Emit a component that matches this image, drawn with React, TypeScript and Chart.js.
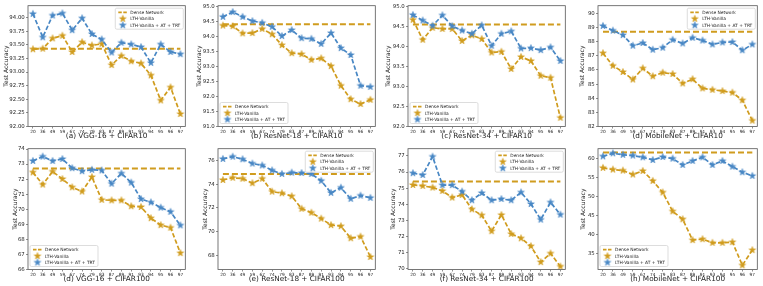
import React, { useEffect, useRef } from 'react';
import { Chart, registerables } from 'chart.js';
Chart.register(...registerables);

const sparsity = ['20', '36', '49', '59', '67', '74', '79', '83', '87', '89', '91', '93', '94', '95', '96', '97'];

const denseA = 93.43;
const lthA = [93.42, 93.43, 93.62, 93.67, 93.37, 93.55, 93.49, 93.52, 93.13, 93.30, 93.20, 93.16, 92.94, 92.48, 92.72, 92.23];
const trtA = [94.07, 93.64, 94.04, 94.08, 93.77, 93.99, 93.70, 93.60, 93.36, 93.54, 93.51, 93.46, 93.17, 93.51, 93.37, 93.33];
const yTicksA = [92.0, 92.25, 92.5, 92.75, 93.0, 93.25, 93.5, 93.75, 94.0];

const denseB = 94.40;
const lthB = [94.36, 94.34, 94.10, 94.11, 94.25, 94.07, 93.71, 93.44, 93.41, 93.22, 93.27, 93.01, 92.36, 91.91, 91.75, 91.89];
const trtB = [94.65, 94.81, 94.65, 94.51, 94.45, 94.32, 94.01, 94.21, 93.94, 93.92, 93.75, 94.11, 93.61, 93.38, 92.36, 92.32];
const yTicksB = [91.0, 91.5, 92.0, 92.5, 93.0, 93.5, 94.0, 94.5, 95.0];

const denseC = 94.55;
const lthC = [94.67, 94.17, 94.47, 94.44, 94.44, 94.14, 94.28, 94.19, 93.85, 93.87, 93.44, 93.74, 93.64, 93.27, 93.22, 92.22];
const trtC = [94.79, 94.65, 94.52, 94.78, 94.51, 94.40, 94.32, 94.53, 94.02, 94.32, 94.38, 93.95, 93.96, 93.91, 93.98, 93.64];
const yTicksC = [92.0, 92.5, 93.0, 93.5, 94.0, 94.5, 95.0];

const denseD = 88.70;
const lthD = [87.19, 86.30, 85.86, 85.33, 86.12, 85.56, 85.81, 85.72, 85.05, 85.35, 84.70, 84.60, 84.51, 84.40, 83.86, 82.42];
const trtD = [89.12, 88.79, 88.47, 87.72, 87.91, 87.44, 87.58, 88.14, 87.88, 88.28, 88.09, 87.81, 87.95, 87.98, 87.40, 87.81];
const yTicksD = [82, 83, 84, 85, 86, 87, 88, 89, 90];

const denseE = 72.70;
const lthE = [72.45, 71.64, 72.51, 72.01, 71.46, 71.18, 72.14, 70.63, 70.59, 70.59, 70.20, 70.15, 69.41, 68.95, 68.78, 67.09];
const trtE = [73.21, 73.50, 73.21, 73.34, 72.73, 72.53, 72.62, 72.58, 71.70, 72.38, 71.77, 70.68, 70.46, 70.11, 69.83, 68.93];
const yTicksE = [66, 67, 68, 69, 70, 71, 72, 73, 74];

const denseF = 74.87;
const lthF = [74.36, 74.55, 74.47, 74.09, 74.47, 73.38, 73.24, 72.99, 71.93, 71.60, 71.10, 70.55, 70.46, 69.44, 69.58, 67.86];
const trtF = [76.14, 76.33, 76.11, 75.75, 75.59, 75.17, 74.87, 74.98, 74.95, 74.87, 74.29, 73.27, 73.71, 72.77, 73.04, 72.85];
const yTicksF = [68, 70, 72, 74, 76];

const denseG = 75.41;
const lthG = [75.20, 75.14, 75.04, 74.83, 74.42, 74.58, 73.69, 73.32, 72.33, 73.34, 72.16, 71.89, 71.40, 70.41, 70.95, 70.14];
const trtG = [75.93, 75.82, 76.96, 75.19, 75.19, 74.79, 74.25, 74.70, 74.25, 74.33, 74.25, 74.74, 74.02, 73.05, 74.12, 73.36];
const yTicksG = [70, 71, 72, 73, 74, 75, 76, 77];

const denseH = 61.6;
const lthH = [57.57, 57.13, 56.87, 55.83, 56.78, 54.17, 51.13, 46.17, 44.09, 38.61, 38.87, 37.91, 37.91, 38.09, 32.0, 36.0];
const trtH = [60.6, 61.4, 61.0, 60.8, 60.35, 59.65, 60.43, 60.0, 58.35, 59.39, 60.35, 58.35, 59.39, 57.91, 56.43, 55.48];
const yTicksH = [35, 40, 45, 50, 55, 60];

const legendLabels = ['Dense Network', 'LTH-Vanilla', 'LTH-Vanilla + AT + TRT'];

const GOLD = '#D09C1E';
const BLUE = '#4887C4';
const FONT = '"DejaVu Sans", sans-serif';

const panels = [
  { caption: '(a) VGG-16 + CIFAR10', dense: denseA, lth: lthA, trt: trtA, ticks: yTicksA, min: 92, max: 94.22, dec: 2, legend: 'tr', titlePad: 2.4 },
  { caption: '(b) ResNet-18 + CIFAR10', dense: denseB, lth: lthB, trt: trtB, ticks: yTicksB, min: 91, max: 95.02, dec: 1, legend: 'bl', titlePad: 5.7 },
  { caption: '(c) ResNet-34 + CIFAR10', dense: denseC, lth: lthC, trt: trtC, ticks: yTicksC, min: 92, max: 95.02, dec: 1, legend: 'bl', titlePad: 4.9 },
  { caption: '(d) MobileNet + CIFAR10', dense: denseD, lth: lthD, trt: trtD, ticks: yTicksD, min: 82, max: 90.55, dec: 0, legend: 'tr', titlePad: 9.1 },
  { caption: '(d) VGG-16 + CIFAR100', dense: denseE, lth: lthE, trt: trtE, ticks: yTicksE, min: 66, max: 74.02, dec: 0, legend: 'bl', titlePad: 11.4 },
  { caption: '(e) ResNet-18 + CIFAR100', dense: denseF, lth: lthF, trt: trtF, ticks: yTicksF, min: 66.8, max: 77.0, dec: 0, legend: 'tr', titlePad: 11.4 },
  { caption: '(f) ResNet-34 + CIFAR100', dense: denseG, lth: lthG, trt: trtG, ticks: yTicksG, min: 69.95, max: 77.45, dec: 0, legend: 'tr', titlePad: 9.4 },
  { caption: '(h) MobileNet + CIFAR100', dense: denseH, lth: lthH, trt: trtH, ticks: yTicksH, min: 30.9, max: 62.6, dec: 0, legend: 'bl', titlePad: 9.4 },
];

function makeStar(color: string, r: number) {
  const c = document.createElement('canvas');
  const s = Math.ceil(r * 2 + 2);
  c.width = s;
  c.height = s;
  const g = c.getContext('2d')!;
  g.beginPath();
  for (let k = 0; k < 10; k++) {
    const rad = k % 2 === 0 ? r : r * 0.4;
    const a = -Math.PI / 2 + (k * Math.PI) / 5;
    const px = s / 2 + rad * Math.cos(a);
    const py = s / 2 + rad * Math.sin(a);
    if (k === 0) g.moveTo(px, py);
    else g.lineTo(px, py);
  }
  g.closePath();
  g.fillStyle = color;
  g.fill();
  g.strokeStyle = color;
  g.lineWidth = 0.5;
  g.stroke();
  return c;
}

const framePlugin = {
  id: 'frameBox',
  afterDatasetsDraw(chart: any) {
    const { ctx, chartArea: ca } = chart;
    ctx.save();
    ctx.strokeStyle = '#555';
    ctx.lineWidth = 0.8;
    ctx.strokeRect(ca.left, ca.top, ca.right - ca.left, ca.bottom - ca.top);
    ctx.restore();
  },
};

function makeLegendPlugin(pos: string, goldStar: HTMLCanvasElement, blueStar: HTMLCanvasElement) {
  return {
    id: 'boxLegend',
    afterDraw(chart: any) {
      const { ctx, chartArea: ca } = chart;
      ctx.save();
      ctx.font = '4.4px ' + FONT;
      const tw = Math.max(...legendLabels.map((l) => ctx.measureText(l).width));
      const w = tw + 18;
      const h = 21;
      const x = pos === 'tr' ? ca.right - 2 - w : ca.left + 2;
      const y = pos === 'tr' ? ca.top + 2.5 : ca.bottom - 3 - h;
      ctx.fillStyle = 'rgba(255,255,255,0.85)';
      ctx.strokeStyle = '#d4d4d4';
      ctx.lineWidth = 0.8;
      ctx.beginPath();
      ctx.roundRect(x, y, w, h, 1.5);
      ctx.fill();
      ctx.stroke();
      const rows = [y + 4.2, y + 10.6, y + 17];
      ctx.strokeStyle = GOLD;
      ctx.lineWidth = 1.7;
      ctx.setLineDash([3.5, 1.5]);
      ctx.beginPath();
      ctx.moveTo(x + 3, rows[0]);
      ctx.lineTo(x + 12, rows[0]);
      ctx.stroke();
      ctx.setLineDash([]);
      ctx.drawImage(goldStar, x + 7.5 - goldStar.width / 2, rows[1] - goldStar.height / 2);
      ctx.drawImage(blueStar, x + 7.5 - blueStar.width / 2, rows[2] - blueStar.height / 2);
      ctx.fillStyle = '#222';
      ctx.textBaseline = 'middle';
      ctx.textAlign = 'left';
      legendLabels.forEach((l, i) => ctx.fillText(l, x + 15, rows[i] + 0.3));
      ctx.restore();
    },
  };
}

function Panel({ p, left, top, width }: any) {
  const ref = useRef<HTMLCanvasElement>(null);
  useEffect(() => {
    const goldStar = makeStar(GOLD, 3.6);
    const blueStar = makeStar(BLUE, 3.6);
    const chart = new Chart(ref.current!, {
      type: 'line',
      data: {
        labels: sparsity,
        datasets: [
          {
            label: legendLabels[0],
            data: sparsity.map(() => p.dense),
            borderColor: GOLD,
            borderWidth: 2,
            borderDash: [6, 3],
            pointRadius: 0,
            order: 2,
          },
          {
            label: legendLabels[1],
            data: p.lth,
            borderColor: GOLD,
            backgroundColor: GOLD,
            borderWidth: 1.7,
            borderDash: [4.5, 2.2],
            pointStyle: goldStar,
            pointRadius: 3.6,
            order: 1,
          },
          {
            label: legendLabels[2],
            data: p.trt,
            borderColor: BLUE,
            backgroundColor: BLUE,
            borderWidth: 1.7,
            borderDash: [4.5, 2.2],
            pointStyle: blueStar,
            pointRadius: 3.6,
            order: 0,
          },
        ],
      },
      options: {
        responsive: false,
        animation: false,
        events: [],
        layout: { padding: { top: 4, right: 1, left: 0, bottom: 0 } },
        plugins: { legend: { display: false }, tooltip: { enabled: false } },
        scales: {
          x: {
            type: 'category',
            offset: true,
            afterFit: (s: any) => {
              s.height = 16.5;
            },
            grid: { display: true, drawOnChartArea: false, drawTicks: true, tickLength: 2, color: '#444', lineWidth: 0.6, offset: false },
            border: { display: false },
            ticks: { font: { size: 4.3, family: FONT }, color: '#222', padding: 1, maxRotation: 0, autoSkip: false },
            title: { display: true, text: p.caption, font: { size: 7.3, family: FONT }, color: '#222', padding: { top: 0, bottom: 2.6 } },
          },
          y: {
            type: 'linear',
            min: p.min,
            max: p.max,
            afterFit: (s: any) => {
              s.width = 28;
            },
            afterBuildTicks: (s: any) => {
              s.ticks = p.ticks.map((v: number) => ({ value: v }));
            },
            grid: { display: true, drawOnChartArea: false, drawTicks: true, tickLength: 2, color: '#444', lineWidth: 0.6 },
            border: { display: false },
            ticks: {
              font: { size: 5.4, family: FONT },
              color: '#222',
              padding: 1.2,
              autoSkip: false,
              callback: (v: any) => Number(v).toFixed(p.dec),
            },
            title: { display: true, text: 'Test Accuracy', font: { size: 6, family: FONT }, color: '#222', padding: { top: p.titlePad, bottom: 0 } },
          },
        },
      },
      plugins: [framePlugin, makeLegendPlugin(p.legend, goldStar, blueStar)],
    } as any);
    return () => chart.destroy();
  }, []);
  return (
    <div style={{ position: 'absolute', left, top, width, height: 143 }}>
      <canvas ref={ref} width={width} height={143} style={{ display: 'block', width, height: 143 }} />
    </div>
  );
}

export default function App() {
  return (
    <div style={{ position: 'fixed', left: 0, top: 0, width: 763, height: 286, background: '#fff', overflow: 'hidden' }}>
      {panels.map((p, i) => {
        const col = i % 4;
        const row = Math.floor(i / 4);
        return <Panel key={i} p={p} left={col * 190} top={row * 143} width={col === 3 ? 193 : 191} />;
      })}
    </div>
  );
}
